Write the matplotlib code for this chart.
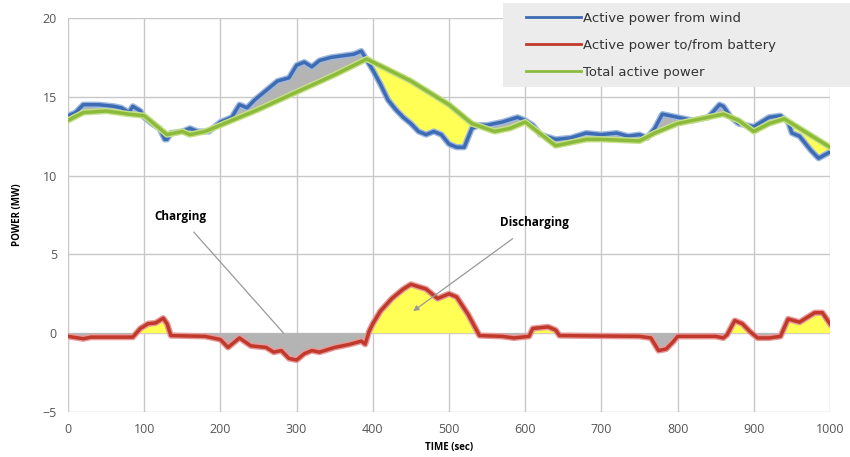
import matplotlib
matplotlib.use("Agg")
import matplotlib.pyplot as plt
import numpy as np
import matplotlib.patheffects as pe
from matplotlib.patches import Rectangle

plt.rcParams['font.family'] = ['Open Sans', 'DejaVu Sans']

# Active power from wind (MW)
wind_t = [0, 10, 20, 40, 60, 70, 80, 85, 95, 100, 110, 120, 127, 130, 135, 150, 160, 170, 185,
          200, 215, 225, 235, 245, 260, 275, 290, 300, 310, 320, 330, 345, 360, 375, 385, 390,
          400, 410, 420, 430, 440, 450, 460, 470, 480, 490, 500, 510, 520, 530, 540, 550, 570,
          590, 600, 610, 620, 640, 660, 680, 700, 720, 735, 750, 760, 770, 780, 800, 820, 840,
          855, 860, 870, 880, 890, 900, 920, 935, 945, 950, 960, 975, 985, 1000]
wind_v = [13.8, 14.0, 14.5, 14.5, 14.4, 14.3, 14.0, 14.4, 14.1, 13.7, 13.3, 13.0, 12.3, 12.3, 12.7,
          12.8, 13.0, 12.8, 12.8, 13.4, 13.7, 14.5, 14.3, 14.8, 15.4, 16.0, 16.2, 17.0, 17.2, 16.9,
          17.3, 17.5, 17.6, 17.7, 17.9, 17.5, 16.7, 15.8, 14.8, 14.2, 13.7, 13.3, 12.8, 12.6, 12.8,
          12.6, 12.0, 11.8, 11.8, 13.0, 13.2, 13.2, 13.4, 13.7, 13.5, 13.2, 12.6, 12.3, 12.4, 12.7,
          12.6, 12.7, 12.5, 12.6, 12.4, 13.0, 13.9, 13.7, 13.5, 13.7, 14.5, 14.4, 13.7, 13.3, 13.2,
          13.1, 13.7, 13.8, 13.4, 12.7, 12.5, 11.6, 11.1, 11.5]

# Total active power (MW)
total_t = [0, 20, 50, 80, 100, 130, 150, 160, 180, 200, 250, 300, 350, 392, 450, 500, 530, 560,
           580, 600, 640, 680, 700, 750, 770, 800, 830, 860, 880, 900, 920, 940, 1000]
total_v = [13.5, 14.0, 14.1, 13.9, 13.8, 12.6, 12.8, 12.6, 12.8, 13.2, 14.2, 15.3, 16.4, 17.4,
           16.0, 14.5, 13.3, 12.8, 13.0, 13.4, 11.9, 12.3, 12.3, 12.2, 12.7, 13.3, 13.6, 13.9,
           13.5, 12.8, 13.3, 13.6, 11.8]

# Active power to/from battery (MW)
batt_t = [0, 20, 30, 85, 95, 105, 115, 125, 130, 135, 180, 200, 210, 225, 240, 260, 270, 280,
          290, 300, 310, 320, 330, 350, 370, 385, 390, 395, 400, 410, 425, 440, 450, 470, 485,
          500, 510, 525, 535, 540, 570, 585, 605, 610, 630, 640, 645, 750, 765, 775, 785, 795,
          800, 850, 860, 865, 875, 885, 895, 905, 920, 935, 945, 960, 980, 990, 1000]
batt_v = [-0.2, -0.35, -0.25, -0.25, 0.3, 0.6, 0.65, 0.95, 0.6, -0.15, -0.2, -0.4, -0.9, -0.3,
          -0.8, -0.9, -1.2, -1.1, -1.6, -1.7, -1.3, -1.1, -1.2, -0.9, -0.7, -0.5, -0.7, 0.1, 0.6,
          1.4, 2.2, 2.8, 3.1, 2.8, 2.2, 2.5, 2.3, 1.2, 0.3, -0.15, -0.2, -0.3, -0.2, 0.3, 0.4, 0.2,
          -0.15, -0.2, -0.3, -1.1, -1.0, -0.5, -0.2, -0.2, -0.3, -0.1, 0.8, 0.6, 0.1, -0.3, -0.3,
          -0.2, 0.9, 0.7, 1.3, 1.3, 0.6]

x_ticks = [0, 100, 200, 300, 400, 500, 600, 700, 800, 900, 1000]
y_ticks = [-5, 0, 5, 10, 15, 20]

BLUE = '#3d6cb5'
RED = '#c0392b'
GREEN = '#8cbb3c'
YELLOW = '#ffff55'
GRAY = '#b4b4b4'

fig = plt.figure(figsize=(8.5, 4.57), dpi=100)
ax = fig.add_axes([68/850, 1-412/457, (830-68)/850, (412-18)/457])

# fill between wind and total
tg = np.linspace(0, 1000, 2001)
w = np.interp(tg, wind_t, wind_v)
tot = np.interp(tg, total_t, total_v)
ax.fill_between(tg, w, tot, where=w >= tot, color=GRAY, interpolate=True, lw=0)
ax.fill_between(tg, w, tot, where=tot >= w, color=YELLOW, interpolate=True, lw=0)
b = np.interp(tg, batt_t, batt_v)
ax.fill_between(tg, b, 0, where=b <= 0, color=GRAY, interpolate=True, lw=0)
ax.fill_between(tg, b, 0, where=b >= 0, color=YELLOW, interpolate=True, lw=0)

glow_b = [pe.Stroke(linewidth=4.5, foreground='#9fb8dd'), pe.Normal()]
glow_r = [pe.Stroke(linewidth=4.5, foreground='#e89a9a'), pe.Normal()]
glow_g = [pe.Stroke(linewidth=4.5, foreground='#c6e08a'), pe.Normal()]
ax.plot(wind_t, wind_v, color=BLUE, lw=2.5, label='Active power from wind', path_effects=glow_b)
ax.plot(batt_t, batt_v, color=RED, lw=2.5, label='Active power to/from battery', path_effects=glow_r)
ax.plot(total_t, total_v, color=GREEN, lw=2.5, label='Total active power', path_effects=glow_g)

ax.set_xlim(0, 1000)
ax.set_ylim(-5, 20)
ax.set_xticks(x_ticks)
ax.set_yticks(y_ticks)
ax.grid(True, color='#c8c8c8', lw=1)
ax.set_axisbelow(True)
for s in ax.spines.values():
    s.set_visible(False)
ax.tick_params(length=0, labelsize=9, labelcolor='#555555', pad=8)

ax.set_xlabel('TIME (sec)', fontsize=7, fontweight='bold', labelpad=4)
ax.set_ylabel('POWER (MW)', fontsize=7, fontweight='bold', labelpad=14)

ax.annotate('Charging', xy=(283, 0), xytext=(147, 7.4), fontsize=8.5, fontweight='bold',
            ha='center', va='center',
            arrowprops=dict(arrowstyle='-', color='#999999', lw=0.9, shrinkA=6, shrinkB=0))
ax.annotate('Discharging', xy=(453, 1.4), xytext=(612, 7.0), fontsize=8.5, fontweight='bold',
            ha='center', va='center',
            arrowprops=dict(arrowstyle='-|>', color='#999999', lw=0.9, shrinkA=8, shrinkB=0,
                            mutation_scale=8))

# legend background box
fig.patches.append(Rectangle((503/850, 1-87/457), (850-503)/850, 84/457,
                             transform=fig.transFigure, facecolor='#ececec',
                             edgecolor='none', zorder=5))
leg = fig.legend(loc='upper left', bbox_to_anchor=(526/850, 1-12/457), frameon=False,
                 prop={'family': ['DejaVu Sans'], 'size': 9.5}, handlelength=4.2,
                 handletextpad=0.15, labelspacing=1.05, borderpad=0, borderaxespad=0,
                 labelcolor='#333333')
leg.set_zorder(6)
for line in leg.get_lines():
    line.set_path_effects([])
    line.set_linewidth(2)

fig.savefig('out.png', dpi=100)
